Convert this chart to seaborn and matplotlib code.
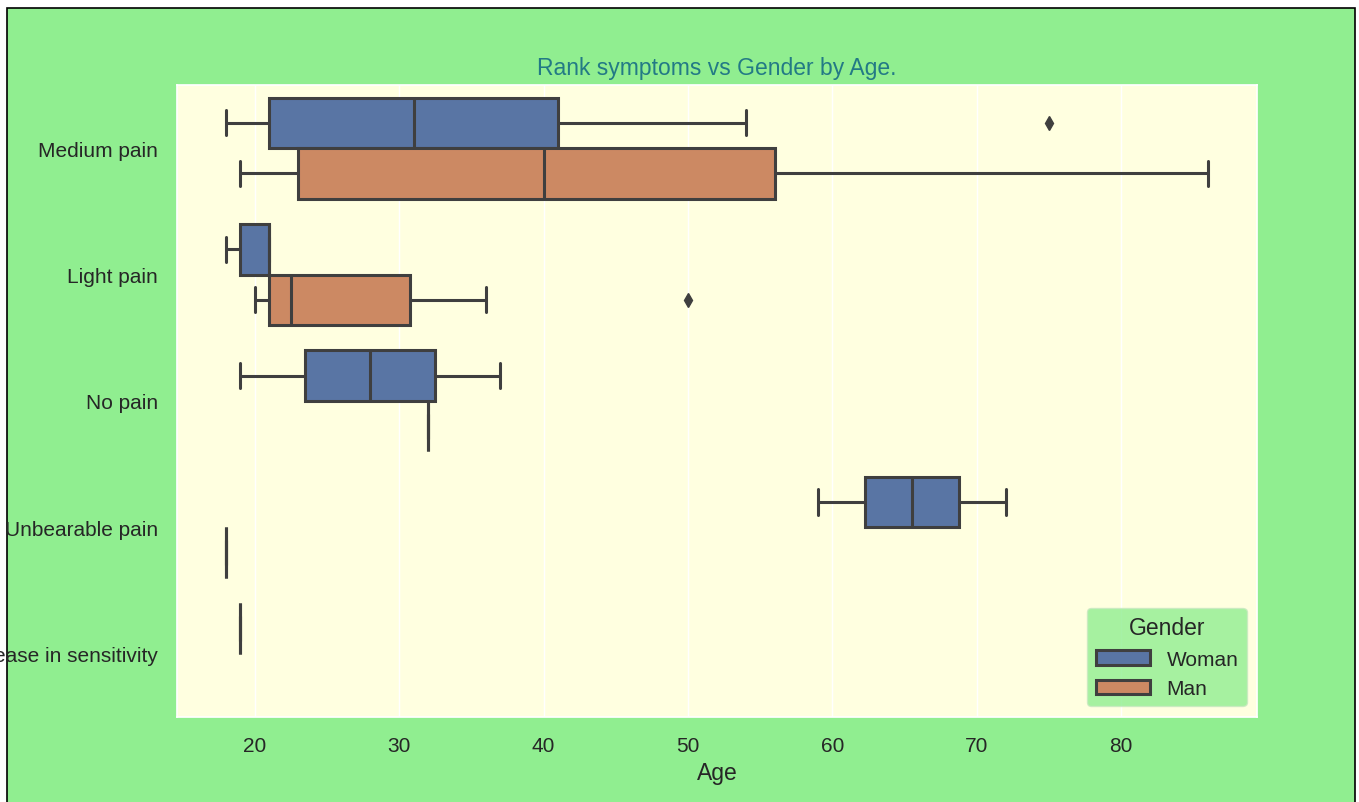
import pandas as pd
import matplotlib
matplotlib.use("Agg")
import matplotlib.pyplot as plt
import seaborn as sns
from matplotlib.patches import Rectangle

sns.set_theme(style="darkgrid", rc={"axes.facecolor": "lightyellow",
                                    "figure.facecolor": "white"})
plt.rcParams["font.family"] = ["Liberation Sans", "DejaVu Sans"]

# ages, one list per (symptom, gender) group
symptoms = ["Medium pain", "Light pain", "No pain", "Unbearable pain",
            "Decrease in sensitivity"]
genders = ["Woman", "Man"]

medium_woman = [18, 20, 21, 27, 31, 35, 41, 54, 75]
medium_man = [19, 22, 23, 30, 40, 48, 56, 70, 86]
light_woman = [18, 19, 21, 21, 21]
light_man = [20, 21, 21, 22, 23, 29, 36, 50]
nopain_woman = [19, 23, 25, 31, 33, 37]
nopain_man = [32]
unbearable_woman = [59, 72]
unbearable_man = [18]
decrease_woman = [19]

groups = [
    ("Medium pain", "Woman", medium_woman),
    ("Medium pain", "Man", medium_man),
    ("Light pain", "Woman", light_woman),
    ("Light pain", "Man", light_man),
    ("No pain", "Woman", nopain_woman),
    ("No pain", "Man", nopain_man),
    ("Unbearable pain", "Woman", unbearable_woman),
    ("Unbearable pain", "Man", unbearable_man),
    ("Decrease in sensitivity", "Woman", decrease_woman),
]
rows = [(s, g, a) for s, g, ages in groups for a in ages]
df = pd.DataFrame(rows, columns=["Rank symptoms", "Gender", "Age"])

fig = plt.figure(figsize=(13.59, 8.03), dpi=100)
# screenshot frame: green figure area with a thin black border
fig.add_artist(Rectangle((7 / 1359, -0.01), 1348 / 1359, (794 / 803) + 0.01,
                         transform=fig.transFigure, facecolor="lightgreen",
                         edgecolor="black", linewidth=1.2, zorder=-10))
ax = fig.add_axes([0.130, 0.106, 0.795, 0.787])

sns.boxplot(data=df, x="Age", y="Rank symptoms", hue="Gender",
            order=symptoms, hue_order=genders, palette="deep",
            saturation=0.75, width=0.8, linewidth=2.2, linecolor="#3f3f3f",
            flierprops=dict(marker="d", markerfacecolor="#3f3f3f",
                            markeredgecolor="#3f3f3f", markersize=7),
            ax=ax)

ax.set_title("Rank symptoms vs Gender by Age.", color="#237a85",
             fontsize=16.5, pad=8)
ax.set_xlabel("Age", fontsize=16.5, color="#262626")
ax.set_ylabel("")
ax.tick_params(axis="x", labelsize=15, pad=8, colors="#262626")
ax.tick_params(axis="y", labelsize=15, pad=7.5, colors="#262626")
ax.yaxis.grid(False)

leg = ax.legend(title="Gender", loc="lower right", fontsize=15,
                title_fontsize=16.5, facecolor="lightgreen", framealpha=0.8,
                edgecolor="#c8e8c0", handlelength=2.6)

fig.savefig("out.png", dpi=100, facecolor="white")
